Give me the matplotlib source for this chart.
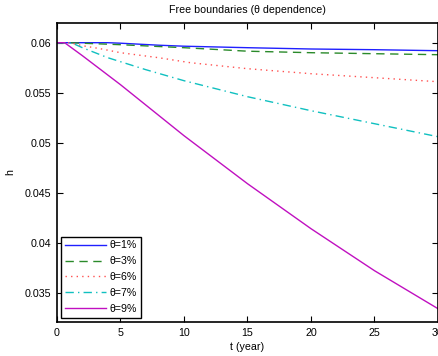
import matplotlib
matplotlib.use("Agg")
import matplotlib.pyplot as plt
from matplotlib.ticker import FuncFormatter

plt.rcParams['font.family'] = ['Liberation Sans', 'DejaVu Sans']

# Data
t_theta1 = [0, 4, 5, 8, 10, 15, 20, 25, 30]
h_theta1 = [0.0600, 0.0600, 0.05995, 0.05975, 0.05965, 0.0595, 0.05937, 0.0593, 0.0592]

t_theta3 = [0, 1, 3, 5, 10, 15, 20, 25, 30]
h_theta3 = [0.0600, 0.0600, 0.0599, 0.0598, 0.0595, 0.05915, 0.0590, 0.0589, 0.0588]

t_theta6 = [0, 1.0, 2, 3.4, 5, 8, 10.5, 15, 20, 25, 30]
h_theta6 = [0.0600, 0.0600, 0.0597, 0.0594, 0.0590, 0.0585, 0.0580, 0.0574, 0.0569, 0.0565, 0.0561]

t_theta7 = [0, 0.8, 1.3, 2, 4, 7, 10, 15, 20, 25, 30]
h_theta7 = [0.0600, 0.0600, 0.0599, 0.0595, 0.0585, 0.0573, 0.0562, 0.0546, 0.0532, 0.0519, 0.0506]

t_theta9 = [0, 0.6, 2, 5, 10, 15, 20, 25, 30]
h_theta9 = [0.0600, 0.0600, 0.0587, 0.0558, 0.0507, 0.0459, 0.0414, 0.0372, 0.0334]

labels = ['θ=1%', 'θ=3%', 'θ=6%', 'θ=7%', 'θ=9%']
x_ticks = [0, 5, 10, 15, 20, 25, 30]
y_ticks = [0.035, 0.04, 0.045, 0.05, 0.055, 0.06]

fig = plt.figure(figsize=(4.39, 3.56), dpi=100)
ax = fig.add_axes([57/439, 1 - 322/356, 381/439, (322 - 22.7)/356])

ax.plot(t_theta1, h_theta1, color='#2020ff', lw=1.0, ls='-', label=labels[0])
ax.plot(t_theta3, h_theta3, color='#2a8a2a', lw=1.0, ls=(0, (6, 4)), label=labels[1])
ax.plot(t_theta6, h_theta6, color='#ff5050', lw=1.0, ls=(0, (1, 3)), label=labels[2])
ax.plot(t_theta7, h_theta7, color='#10c0c0', lw=1.0, ls=(0, (6, 3, 1, 3)), label=labels[3])
ax.plot(t_theta9, h_theta9, color='#c010c0', lw=1.0, ls='-', label=labels[4])

ax.set_xlim(0, 30)
ax.set_ylim(0.03207, 0.062)
ax.set_xticks(x_ticks)
ax.set_yticks(y_ticks)
ax.yaxis.set_major_formatter(FuncFormatter(lambda v, p: '%g' % v))
ax.tick_params(direction='in', length=4, width=0.8, top=True, right=True,
               labelsize=7.7, pad=4)
for s in ax.spines.values():
    s.set_linewidth(1.2)

ax.set_title('Free boundaries (θ dependence)', fontsize=7.7, pad=7)
ax.set_xlabel('t (year)', fontsize=7.7, labelpad=3)
ax.set_ylabel('h', fontsize=7.7, labelpad=7)

leg = ax.legend(loc='lower left', fontsize=7.7, frameon=True, fancybox=False,
                edgecolor='black', framealpha=1, handlelength=3.8,
                handletextpad=0.4, labelspacing=0.55, borderpad=0.35,
                borderaxespad=0.4)
leg.get_frame().set_linewidth(1.0)

fig.savefig('out.png', dpi=100)
